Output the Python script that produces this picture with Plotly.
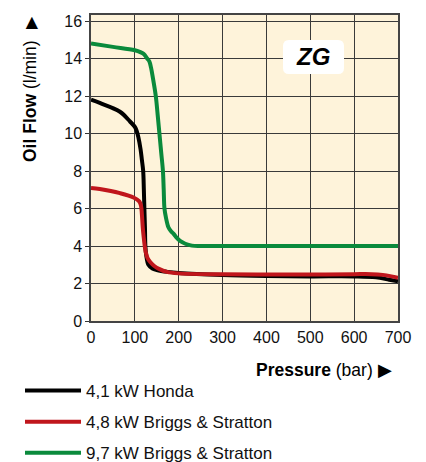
import plotly.graph_objects as go

# ---- data ----
pressure_honda = [0, 20, 66, 89, 100, 104, 108, 113, 116, 119, 120.5, 121.7, 123, 124, 126, 131, 140, 150, 175, 200, 300, 400, 500, 600, 650, 680, 700]
flow_honda = [11.8, 11.63, 11.16, 10.64, 10.35, 10.15, 9.8, 9.16, 8.6, 8.0, 7.0, 6.0, 5.0, 4.0, 3.5, 3.0, 2.8, 2.72, 2.62, 2.56, 2.45, 2.4, 2.38, 2.38, 2.33, 2.2, 2.12]

pressure_bs48 = [0, 20, 66, 97, 110, 114, 116, 118, 120, 122.5, 125, 129, 135, 145, 155, 173, 200, 300, 400, 500, 600, 640, 665, 685, 700]
flow_bs48 = [7.1, 7.04, 6.82, 6.59, 6.38, 6.15, 5.7, 5.0, 4.5, 4.0, 3.65, 3.35, 3.15, 2.92, 2.78, 2.62, 2.54, 2.49, 2.48, 2.48, 2.5, 2.5, 2.46, 2.38, 2.3]

pressure_bs97 = [0, 50, 100, 120, 128, 133, 137, 141, 147.7, 152, 156, 160, 164, 165.8, 167.5, 171, 176.5, 182, 188, 195, 203, 215, 230, 250, 300, 400, 500, 600, 700]
flow_bs97 = [14.8, 14.62, 14.44, 14.25, 14.0, 13.85, 13.5, 12.98, 12.0, 11.0, 10.0, 9.0, 8.0, 7.0, 6.0, 5.5, 5.0, 4.8, 4.66, 4.45, 4.27, 4.12, 4.02, 4.0, 4.0, 4.0, 4.0, 4.0, 4.0]

series_names = ["4,1 kW Honda", "4,8 kW Briggs & Stratton", "9,7 kW Briggs & Stratton"]
series_colors = ["#000000", "#c0161c", "#0a8a3c"]

x_ticks = [0, 100, 200, 300, 400, 500, 600, 700]
y_ticks = [0, 2, 4, 6, 8, 10, 12, 14, 16]

FONT = "Liberation Sans, Arial, sans-serif"

fig = go.Figure()
for i, (xs, ys) in enumerate([(pressure_honda, flow_honda), (pressure_bs48, flow_bs48), (pressure_bs97, flow_bs97)]):
    fig.add_trace(go.Scatter(
        x=xs, y=ys, mode="lines", name=series_names[i],
        legendgroup=f"g{i}",
        line=dict(color=series_colors[i], width=4, shape="spline", smoothing=1.0),
    ))

# plot-area geometry (pixels) for decoration placement
L, R, T, B = 91, 398, 15, 321
W_PX, H_PX = 426, 462

def px(xp):
    return (xp - L) / (R - L)

def py(yp):
    return (B - yp) / (B - T)

# rounded white label box
x0, x1, y0, y1, r = 283, 344, 40, 74, 6
path = (f"M{px(x0 + r)},{py(y0)} L{px(x1 - r)},{py(y0)} Q{px(x1)},{py(y0)} {px(x1)},{py(y0 + r)} "
        f"L{px(x1)},{py(y1 - r)} Q{px(x1)},{py(y1)} {px(x1 - r)},{py(y1)} "
        f"L{px(x0 + r)},{py(y1)} Q{px(x0)},{py(y1)} {px(x0)},{py(y1 - r)} "
        f"L{px(x0)},{py(y0 + r)} Q{px(x0)},{py(y0)} {px(x0 + r)},{py(y0)} Z")
fig.add_shape(type="path", path=path, xref="paper", yref="paper",
              fillcolor="white", line=dict(width=0), layer="above")

fig.add_annotation(text="<b><i>ZG</i></b>", xref="paper", yref="paper",
                   x=px(313), y=py(57), xanchor="center", yanchor="middle",
                   showarrow=False, font=dict(family=FONT, size=24, color="#000"))

# axis titles
fig.add_annotation(text="<b>Oil Flow</b> (l/min)", xref="paper", yref="paper",
                   x=px(30), y=py(101), xanchor="center", yanchor="middle",
                   textangle=-90, showarrow=False,
                   font=dict(family=FONT, size=17.5, color="#000"))
fig.add_annotation(text="▶", xref="paper", yref="paper",
                   x=px(30), y=py(23), xanchor="center", yanchor="middle",
                   textangle=-90, showarrow=False,
                   font=dict(family=FONT, size=16, color="#000"))
fig.add_annotation(text="<b>Pressure</b> (bar) ▶", xref="paper", yref="paper",
                   x=px(394), y=py(370), xanchor="right", yanchor="middle",
                   showarrow=False, font=dict(family=FONT, size=17.5, color="#000"))

fig.update_layout(
    width=W_PX, height=H_PX,
    margin=dict(l=L, r=W_PX - R, t=T, b=H_PX - B, autoexpand=False),
    paper_bgcolor="white",
    plot_bgcolor="#fef3da",
    font=dict(family=FONT, size=16, color="#111"),
    showlegend=True,
    legend=dict(x=px(20), y=py(373), xanchor="left", yanchor="top",
                orientation="v", tracegroupgap=6, itemwidth=56,
                font=dict(family=FONT, size=17, color="#111"),
                bgcolor="rgba(0,0,0,0)"),
    xaxis=dict(range=[0, 700], tickvals=x_ticks, ticktext=[str(v) for v in x_ticks],
               showgrid=True, gridcolor="#3a3a3a", gridwidth=1,
               showline=True, linecolor="#444", linewidth=1.5, mirror=True,
               ticks="outside", ticklen=1, tickcolor="rgba(0,0,0,0)",
               zeroline=False, fixedrange=True,
               tickfont=dict(family=FONT, size=16, color="#111")),
    yaxis=dict(range=[0, (B - T) / ((B - 21) / 16)], tickvals=y_ticks,
               showgrid=True, gridcolor="#3a3a3a", gridwidth=1,
               showline=True, linecolor="#444", linewidth=1.5, mirror=True,
               ticks="outside", ticklen=4, tickcolor="#333",
               zeroline=False, fixedrange=True,
               tickfont=dict(family=FONT, size=16, color="#111")),
)

fig.write_html("out.html", config={"displayModeBar": False},
               post_script="document.body.style.margin='0';document.body.style.overflow='hidden';")
